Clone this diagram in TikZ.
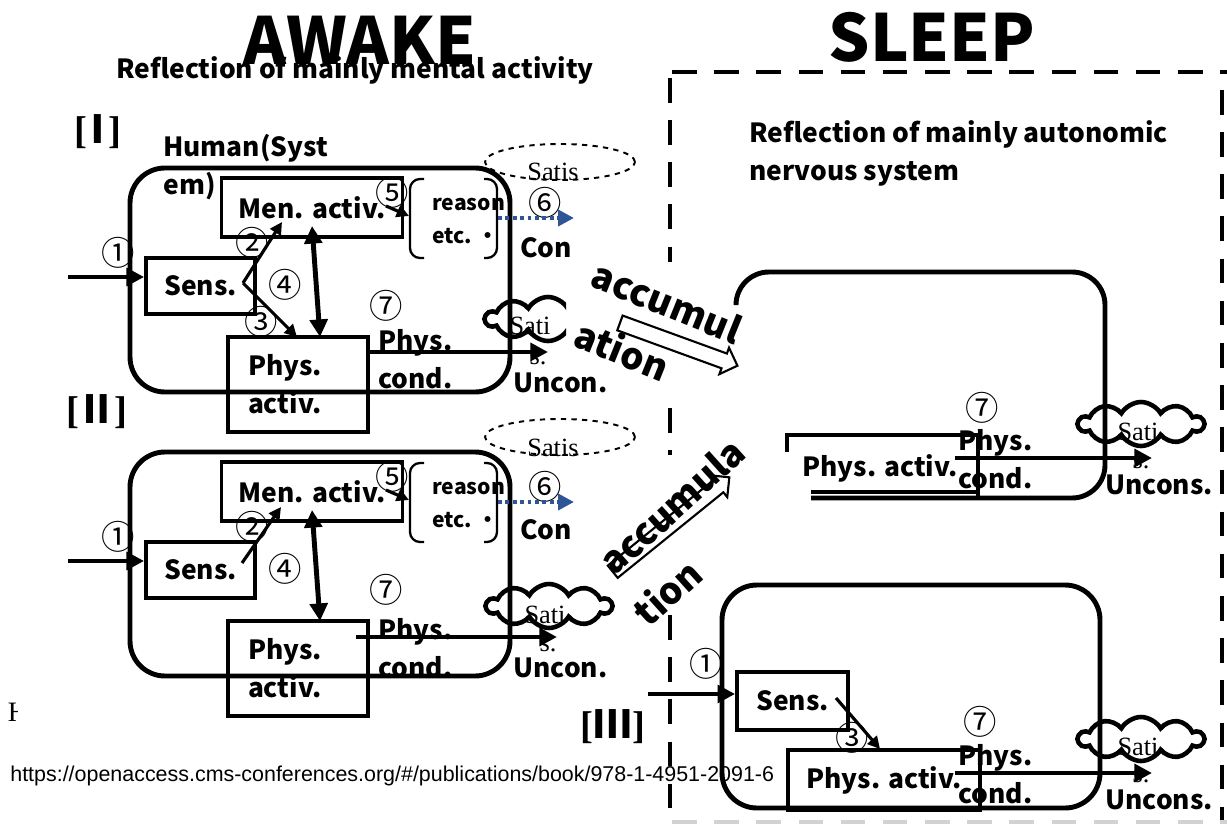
\documentclass[tikz,border=0pt]{standalone}
\usepackage{fontspec}
\setmainfont{Noto Sans CJK JP}
\newfontfamily\timesf{Liberation Serif}
\newfontfamily\arialf{Liberation Sans}
\newfontfamily\cjknum{Noto Sans CJK JP}
\usetikzlibrary{shapes.symbols,shapes.arrows,shapes.geometric,arrows.meta}
\newcommand{\pxu}{0.02cm}
\newcommand{\rnum}[2][0em]{[\hspace{#1}{\cjknum\bfseries #2}\hspace{#1}]}
\definecolor{dotblue}{RGB}{47,85,151}
\tikzset{
  txt/.style={font=\bfseries\fontsize{15}{21.5}\selectfont, inner sep=0pt},
  small/.style={font=\bfseries\fontsize{12}{19}\selectfont, inner sep=0pt},
  box/.style={txt, draw, line width=2.2pt},
  sysframe/.style={draw, line width=2.8pt, rounded corners=0.7cm},
  num/.style={font=\fontsize{19}{19}\selectfont, inner sep=0pt},
  roman/.style={font=\timesf\bfseries\fontsize{22}{22}\selectfont, inner sep=0pt},
  sat/.style={font=\timesf\fontsize{15}{15}\selectfont, inner sep=0pt},
  arr/.style={line width=2.8pt, -{Triangle[length=10pt,width=10pt]}},
  thinarr/.style={line width=1.8pt, -{Triangle[length=7pt,width=7pt]}},
  dblarr/.style={line width=2.8pt, {Triangle[length=10pt,width=10pt]}-{Triangle[length=10pt,width=10pt]}},
  dotarr/.style={dotblue, line width=2.2pt, dotted, -{Triangle[length=9pt,width=9pt]}},
  puff/.style={cloud, cloud puffs=10, cloud puff arc=120, cloud ignores aspect, draw, line width=2.6pt, minimum width=125*\pxu, minimum height=44*\pxu},
  dashcloud/.style={ellipse, draw, dashed, line width=1.1pt, minimum width=150*\pxu, minimum height=36*\pxu},
  accu/.style={font=\bfseries\fontsize{21}{21}\selectfont, inner sep=0pt},
  hollow/.style={single arrow, draw, line width=1.2pt, fill=white, inner sep=3.2pt, minimum width=16pt, single arrow head extend=3pt},
  sleepline/.style={line width=2.8pt, dash pattern=on 14pt off 10pt},
}
\begin{document}
\begin{tikzpicture}[x=0.02cm, y=-0.02cm]
\useasboundingbox (0,0) rectangle (1227,824);
% titles
\node[txt] (sub1) at (355,70) {Reflection of mainly mental activity};
\node[font=\bfseries\fontsize{37}{37}\selectfont, inner sep=0pt] (awake) at (360,40) {AWAKE};
\node[font=\bfseries\fontsize{37}{37}\selectfont, inner sep=0pt] (sleep) at (932,37) {SLEEP};
\node[txt, align=left, anchor=north west] (sub2) at (749,120) {Reflection of mainly autonomic\\nervous system};
\node[font=\arialf\fontsize{12.2}{12.2}\selectfont, anchor=west, inner sep=0pt] (url) at (10,776) {https://openaccess.cms-conferences.org/\#/publications/book/978-1-4951-2091-6};
\begin{scope}
  \clip (0,690) rectangle (17,735);
  \node[font=\timesf\fontsize{16}{16}\selectfont] (hcut) at (18,712) {H};
\end{scope}

% sleep frame
\draw[sleepline] (672,72) -- (1227,72);
\draw[sleepline] (1222,90) -- (1222,824);
\draw[sleepline] (670,78) -- (670,262);
\draw[sleepline] (670,408) -- (670,455);
\draw[sleepline] (670,615) -- (670,824);
\draw[sleepline, gray!35] (672,822) -- (1227,822);

% [I]
\node[roman] (r1) at (98,132) {\rnum[-0.22em]{Ⅰ}};
\node[txt, align=left, anchor=north west] (hum) at (163,134) {Human(Syst\\em)};
\node[sysframe, minimum width=380*\pxu, minimum height=224*\pxu] (sys1) at (320,280) {};
\node[box, minimum width=181*\pxu, minimum height=59*\pxu] (men1) at (312,207.5) {Men. activ.};
\node[box, minimum width=109*\pxu, minimum height=56*\pxu] (sens1) at (200.5,286) {Sens.};
\node[box, align=left, text width=100*\pxu, minimum width=140*\pxu, minimum height=95*\pxu] (phys1) at (298,384.5) {Phys.\\activ.};
\node[small, align=left, anchor=west] (rea1) at (432,221) {reason\\etc.\ ・};
\draw[line width=1.3pt, rounded corners=0.2cm] (424,179) -- (410,179) -- (410,258) -- (424,258);
\draw[line width=1.3pt, rounded corners=0.2cm] (484,179) -- (497,179) -- (497,258) -- (484,258);
\node[txt, anchor=west] (con1) at (520,248) {Con};
\node[txt, align=left, anchor=west] (pc1) at (378,359) {Phys.\\cond.};
\node[txt, anchor=west] (unc1) at (513,383) {Uncon.};
\node[dashcloud] (sd1) at (560,162) {};
\node[sat] (st1) at (553,172) {Satis};
\begin{scope}
  \clip (0,0) rectangle (566,824);
  \node[puff] (cl1) at (548,319) {};
\end{scope}
\node[sat] (sa1) at (530,326) {Sati};
\node[sat] (ss1) at (538,358) {s.};
\node[num] (n1a) at (118,253) {①};
\node[num] (n2a) at (252,243) {②};
\node[num] (n3a) at (261,322) {③};
\node[num] (n4a) at (285,285) {④};
\node[num] (n5a) at (392,193) {⑤};
\node[num] (n6a) at (545,203) {⑥};
\node[num] (n7a) at (386,306) {⑦};
\coordinate (in1) at (68,277);
\coordinate (v1) at (243,283);
\coordinate (t2a) at (282,222);
\coordinate (t3a) at (297,337);
\coordinate (d1a) at (312,226);
\coordinate (d1b) at (320,337);
\coordinate (a5) at (386,206);
\coordinate (b5) at (409,216);
\coordinate (a6) at (498,218);
\coordinate (b6) at (574,218);
\coordinate (a7) at (368,352);
\coordinate (b7) at (548,352);
\draw[arr] (in1) -- (sens1.west |- in1);
\draw[thinarr] (v1) -- (t2a);
\draw[thinarr] (v1) -- (t3a);
\draw[dblarr] (d1a) -- (d1b);
\draw[thinarr] (a5) -- (b5);
\draw[dotarr] (a6) -- (b6);
\draw[arr] (a7) -- (b7);

% [II]
\node[roman] (r2) at (97,412) {\rnum[-0.04em]{Ⅱ}};
\node[sysframe, minimum width=380*\pxu, minimum height=224*\pxu] (sys2) at (320,564) {};
\node[box, minimum width=181*\pxu, minimum height=59*\pxu] (men2) at (312,491.5) {Men. activ.};
\node[box, minimum width=109*\pxu, minimum height=56*\pxu] (sens2) at (200.5,570) {Sens.};
\node[box, align=left, text width=100*\pxu, minimum width=140*\pxu, minimum height=95*\pxu] (phys2) at (298,668.5) {Phys.\\activ.};
\node[small, align=left, anchor=west] (rea2) at (432,505) {reason\\etc.\ ・};
\draw[line width=1.3pt, rounded corners=0.2cm] (424,463) -- (410,463) -- (410,542) -- (424,542);
\draw[line width=1.3pt, rounded corners=0.2cm] (484,463) -- (497,463) -- (497,542) -- (484,542);
\node[txt, anchor=west] (con2) at (520,530) {Con};
\node[txt, align=left, anchor=west] (pc2) at (378,648) {Phys.\\cond.};
\node[txt, anchor=west] (unc2) at (513,668) {Uncon.};
\node[dashcloud] (sd2) at (560,437) {};
\node[sat] (st2) at (553,448) {Satis};
\node[puff] (cl2) at (549,606) {};
\node[sat] (sa2) at (545,615) {Sati};
\node[sat] (ss2) at (548,645) {s.};
\node[num] (n1b) at (118,537) {①};
\node[num] (n2b) at (252,527) {②};
\node[num] (n4b) at (285,569) {④};
\node[num] (n5b) at (392,477) {⑤};
\node[num] (n6b) at (545,487) {⑥};
\node[num] (n7b) at (386,590) {⑦};
\coordinate (in2) at (68,561);
\coordinate (v2) at (242,563);
\coordinate (t2b) at (281,507);
\coordinate (d2a) at (312,510);
\coordinate (d2b) at (320,621);
\coordinate (a5b) at (386,490);
\coordinate (b5b) at (409,500);
\coordinate (a6b) at (498,502);
\coordinate (b6b) at (574,502);
\coordinate (a7b) at (356,637);
\coordinate (b7b) at (557,637);
\draw[arr] (in2) -- (sens2.west |- in2);
\draw[thinarr] (v2) -- (t2b);
\draw[dblarr] (d2a) -- (d2b);
\draw[thinarr] (a5b) -- (b5b);
\draw[dotarr] (a6b) -- (b6b);
\draw[arr] (a7b) -- (b7b);

% accumulation
\node[hollow, minimum height=125*\pxu, rotate=-20] (acc1) at (675,343) {};
\node[accu, rotate=-22] (acw1) at (667,302) {accumul};
\node[accu, rotate=-22] (acw2) at (622,350) {ation};
\node[hollow, minimum height=150*\pxu, rotate=39] (acc2) at (668,527) {};
\node[accu, rotate=42] (acw3) at (672,506) {accumula};
\node[accu, rotate=42] (acw4) at (667,592) {tion};

% sleep upper
\draw[line width=2.8pt, rounded corners=0.66cm] (736,302) -- (736,272) -- (1105,272) -- (1105,498) -- (811,498);
\draw[line width=2.2pt] (787,452) -- (787,435) -- (978,435) -- (978,498);
\draw[line width=2.2pt] (811,492) -- (978,492);
\node[txt] (pa3) at (880,468) {Phys. activ.};
\node[num] (n7c) at (982,408) {⑦};
\node[txt, align=left, anchor=west] (pc3) at (958,459) {Phys.\\cond.};
\node[puff] (cl3) at (1141,424) {};
\node[sat] (sa3) at (1138,432) {Sati};
\node[sat] (ss3) at (1141,462) {s.};
\node[txt, anchor=west] (unc3) at (1105,485) {Uncons.};
\coordinate (a7c) at (955,458);
\coordinate (b7c) at (1152,458);
\draw[arr] (a7c) -- (b7c);

% sleep lower [III]
\node[roman] (r3) at (613,727) {\rnum{Ⅲ}};
\node[sysframe, minimum width=378*\pxu, minimum height=223*\pxu] (sys3) at (911,696.5) {};
\node[box, minimum width=111*\pxu, minimum height=58*\pxu] (sens3) at (792.5,701) {Sens.};
\node[box, minimum width=192*\pxu, minimum height=60*\pxu] (phys3) at (884,780) {Phys. activ.};
\node[num] (n1c) at (706,664) {①};
\node[num] (n3c) at (852,738) {③};
\node[num] (n7d) at (980,722) {⑦};
\node[txt, align=left, anchor=west] (pc4) at (958,774) {Phys.\\cond.};
\node[puff] (cl4) at (1141,739) {};
\node[sat] (sa4) at (1138,747) {Sati};
\node[sat] (ss4) at (1141,776) {s.};
\node[txt, anchor=west] (unc4) at (1105,800) {Uncons.};
\coordinate (in3) at (648,694);
\coordinate (a3c) at (836,698);
\coordinate (b3c) at (880,749);
\coordinate (a7d) at (955,773);
\coordinate (b7d) at (1152,773);
\draw[arr] (in3) -- (sens3.west |- in3);
\draw[thinarr] (a3c) -- (b3c);
\draw[arr] (a7d) -- (b7d);
\end{tikzpicture}
\end{document}
